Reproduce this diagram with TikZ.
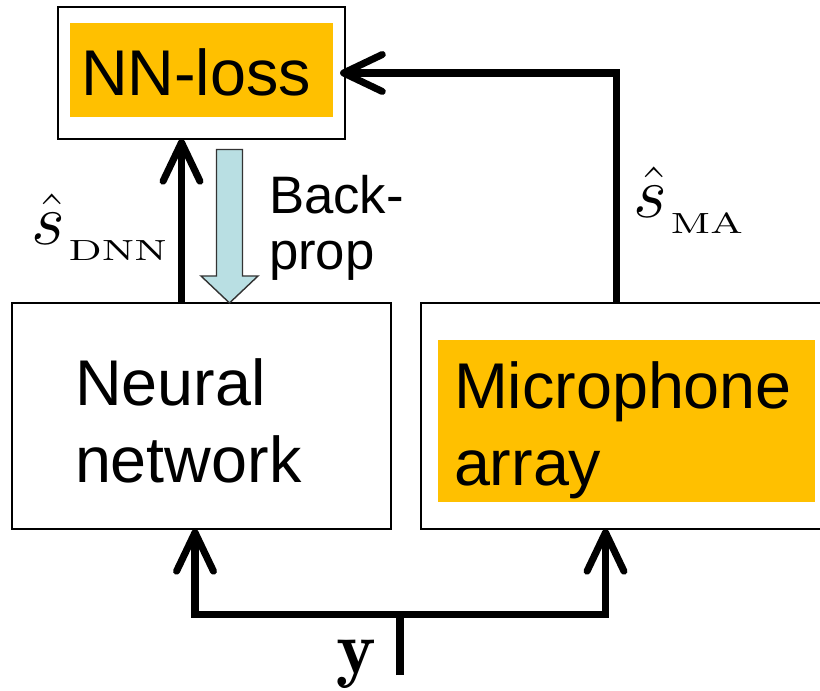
\documentclass[tikz,border=0pt]{standalone}
\usepackage{amsmath,amssymb}
\usepackage{fontspec}
\usepackage{graphicx}
\usetikzlibrary{positioning,arrows.meta,calc}
\newfontfamily\arialfont{Liberation Sans}
\definecolor{boxgold}{HTML}{FFC000}
\definecolor{bpcyan}{HTML}{B9DFE3}
\newcommand{\estlabel}[1]{$\hat{s}$\kern1pt\raisebox{-4.3pt}{\scalebox{1.4}[1]{\fontsize{8.3}{10}\selectfont\rmfamily #1}}}
\tikzset{
    every node/.style={inner sep=0pt,outer sep=0pt},
    block/.style={rectangle,draw=black,line width=0.4pt,fill=white},
    goldfill/.style={rectangle,fill=boxgold},
    blocktext/.style={font=\arialfont\fontsize{18.4}{21.9}\selectfont,align=left},
    smalltext/.style={font=\arialfont\fontsize{15}{16.2}\selectfont,align=left},
    estim/.style={font=\fontsize{20}{24}\selectfont},
    sigline/.style={line width=2pt},
    sigflow/.style={sigline,-{Straight Barb[length=11pt,width=10.5pt,round]}},
    backprop/.style={draw=black!80,line width=0.4pt,fill=bpcyan}
}
\begin{document}
\begin{tikzpicture}[x=0.1mm,y=-0.1mm]
\useasboundingbox (0,0) rectangle (820,690);
% blocks
\node[block,minimum width=28.7mm,minimum height=13.2mm] (lossbox) at (201.5,73) {};
\node[goldfill,minimum width=26.3mm,minimum height=9.4mm] (lossfill) at (201.5,70) {};
\node[blocktext,anchor=base west] (losstext) at (81,96) {NN-loss};
\node[block,minimum width=37.9mm,minimum height=22.6mm,below=16.4mm of lossbox] (nnbox) {};
\node[blocktext,anchor=base west] (nntext) at (75,482) {Neural\\network};
\node[block,minimum width=40.4mm,minimum height=22.6mm,right=3mm of nnbox] (micbox) {};
\node[goldfill,minimum width=37.7mm,minimum height=16.2mm] (micfill) at ($(micbox.center)+(3.5,5)$) {};
\node[blocktext,anchor=base west] (mictext) at (454,485) {Microphone\\array};
% labels
\node[smalltext,anchor=base west] (bptext) at (269,270) {Back-\\prop};
\node[estim,anchor=base west] (dnnlab) at (31.5,245) {\estlabel{DNN}};
\node[estim,anchor=base west] (malab) at (633.5,218) {\estlabel{MA}};
\node[font=\fontsize{21.4}{24}\selectfont,anchor=base west] (ylab) at (336,673) {$\mathbf{y}$};
% connectors
\coordinate (dnnout) at ($(nnbox.north)+(-20,0)$);
\coordinate (maout) at ($(micbox.north)+(-6.5,0)$);
\coordinate (yin) at (400,675);
\coordinate (split) at (400,614.5);
\draw[sigflow] (dnnout) -- (dnnout |- lossbox.south);
\draw[sigflow,shorten >=-1.4pt] (maout) |- (lossbox.east);
\draw[sigline] (yin) -- (split);
\draw[sigflow] (split) -| ($(nnbox.south)+(-6.5,0)$);
\draw[sigflow] (split) -| ($(micbox.south)+(-17.5,0)$);
% backprop
\draw[backprop] (216.5,149.5) -- (242.5,149.5) -- (242.5,276) -- (258,276)
    -- (229.5,303) -- (201,276) -- (216.5,276) -- cycle;
\end{tikzpicture}
\end{document}
